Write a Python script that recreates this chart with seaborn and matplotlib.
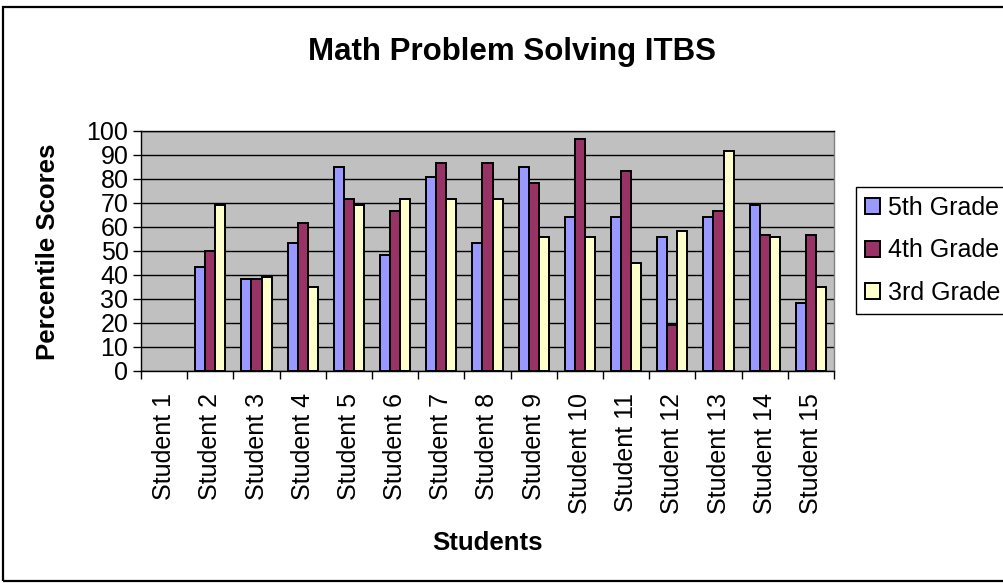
import matplotlib
matplotlib.use("Agg")
import matplotlib.pyplot as plt
from matplotlib.patches import Patch, Rectangle
import numpy as np
import pandas as pd
import seaborn as sns

students = [f"Student {i}" for i in range(1, 16)]
grades = ["5th Grade", "4th Grade", "3rd Grade"]
grade5 = [np.nan, 43.3, 38.3, 53.3, 85.0, 48.3, 80.8, 53.3, 85.0, 64.2, 64.2, 55.8, 64.2, 69.2, 28.3]
grade4 = [np.nan, 50.0, 38.3, 61.8, 71.7, 66.7, 86.7, 86.7, 78.3, 96.7, 83.3, 19.2, 66.7, 56.7, 56.7]
grade3 = [np.nan, 69.2, 39.2, 35.0, 69.2, 71.7, 71.7, 71.7, 55.8, 55.8, 45.0, 58.3, 91.7, 55.8, 35.0]
colors = ["#9999FF", "#993366", "#FFFFCC"]

df = pd.DataFrame({
    "Student": students * 3,
    "Grade": [g for g in grades for _ in students],
    "Score": grade5 + grade4 + grade3,
})

sns.set_theme(style="white")
plt.rcParams["font.family"] = ["Liberation Sans", "DejaVu Sans"]
plt.rcParams["text.color"] = "black"
plt.rcParams["axes.labelcolor"] = "black"
plt.rcParams["xtick.color"] = "black"
plt.rcParams["ytick.color"] = "black"

W, H = 1004, 583
fig = plt.figure(figsize=(W / 100, H / 100), dpi=100)
fig.patch.set_facecolor("white")

ax = fig.add_axes([141 / W, 1 - 371 / H, (834 - 141) / W, (371 - 131) / H])
ax.set_facecolor("#C0C0C0")

sns.barplot(data=df, x="Student", y="Score", hue="Grade", order=students,
            hue_order=grades, palette=colors, width=0.65, saturation=1,
            edgecolor="black", linewidth=1.4, errorbar=None, legend=False, ax=ax)

ax.set_ylim(0, 100)
ax.set_xlim(-0.5, len(students) - 0.5)
ax.set_yticks(np.arange(0, 101, 10))
ax.yaxis.grid(True, color="black", linewidth=1.0)
ax.xaxis.grid(False)
ax.set_axisbelow(True)

for s in ["left", "bottom", "top"]:
    ax.spines[s].set_color("black")
    ax.spines[s].set_linewidth(1.0)
ax.spines["top"].set_visible(True)
ax.spines["right"].set_color("#808080")
ax.spines["right"].set_linewidth(1.0)

ax.set_xlabel("")
ax.set_ylabel("")
ax.set_xticks(range(len(students)))
ax.set_xticklabels(students, rotation=90, fontsize=18)
ax.tick_params(axis="x", which="major", length=0, pad=16, colors="black")
ax.set_xticks(np.arange(-0.5, len(students), 1.0), minor=True)
ax.tick_params(axis="x", which="minor", length=6, width=1, direction="out", color="black", bottom=True)
ax.tick_params(axis="y", length=6, width=1, direction="out", labelsize=18, pad=3, colors="black", left=True)
for lab in ax.get_xticklabels():
    lab.set_verticalalignment("top")

fig.text(512 / W, 1 - 52 / H, "Math Problem Solving ITBS", ha="center", va="center",
         fontsize=22.5, fontweight="bold")
fig.text(487 / W, 1 - 543 / H, "Students", ha="center", va="center",
         fontsize=18.5, fontweight="bold")
fig.text(48 / W, 1 - 252 / H, "Percentile Scores", ha="center", va="center",
         rotation=90, fontsize=18.5, fontweight="bold")

handles = [Patch(facecolor=c, edgecolor="black", linewidth=1.4) for c in colors]
leg = fig.legend(handles, grades, loc="upper left", bbox_to_anchor=(856 / W, 1 - 187 / H),
                 fontsize=18, frameon=True, fancybox=False, framealpha=1,
                 edgecolor="black", handlelength=0.6, handleheight=0.6,
                 handletextpad=0.35, labelspacing=0.75, borderpad=0.35, borderaxespad=0)
leg.get_frame().set_linewidth(1.0)

fig.patches.append(Rectangle((3 / W, 2 / H), 1.2, 1 - 9 / H, transform=fig.transFigure,
                             fill=False, edgecolor="black", linewidth=1.6))

fig.savefig("out.png", dpi=100)
